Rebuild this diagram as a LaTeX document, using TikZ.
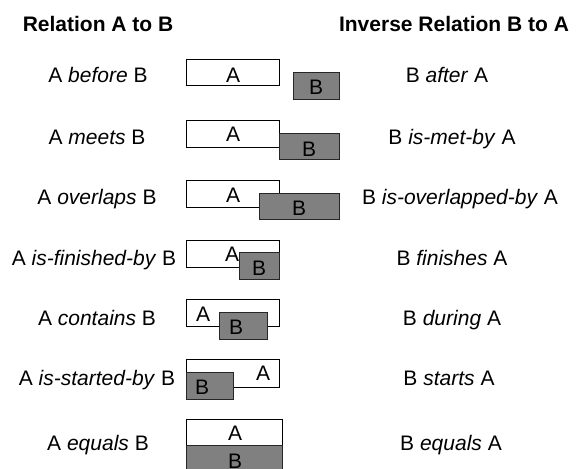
\documentclass[tikz,border=0pt]{standalone}
\usepackage{fontspec}
\setmainfont{Liberation Sans}
\definecolor{bgray}{RGB}{128,128,128}
\begin{document}
\begin{tikzpicture}[x=1pt,y=-1pt,
  txt/.style={font=\fontsize{21}{25}\selectfont, inner sep=0pt, anchor=base},
  head/.style={txt, font=\fontsize{21}{25}\selectfont\bfseries},
  abox/.style={draw=black, fill=white, line width=1pt},
  bbox/.style={draw=black!85, fill=bgray, line width=1pt}]
\useasboundingbox (0,0) rectangle (577,468);
\clip (0,0) rectangle (577,468);

% column headings
\node[head] (h1) at (98,31.7) {Relation A to B};
\node[head] (h2) at (454,31.7) {Inverse Relation B to A};

% relations A to B
\node[txt] (l1) at (98,82.5)  {A \emph{before} B};
\node[txt] (l2) at (97,144.5) {A \emph{meets} B};
\node[txt] (l3) at (97,204.5) {A \emph{overlaps} B};
\node[txt] (l4) at (94,265.5) {A \emph{is-finished-by} B};
\node[txt] (l5) at (97,325.5) {A \emph{contains} B};
\node[txt] (l6) at (97,385.5) {A \emph{is-started-by} B};
\node[txt] (l7) at (98,450.5) {A \emph{equals} B};

% inverse relations B to A
\node[txt] (r1) at (447,82.5)  {B \emph{after} A};
\node[txt] (r2) at (452,144.5) {B \emph{is-met-by} A};
\node[txt] (r3) at (460,204.5) {B \emph{is-overlapped-by} A};
\node[txt] (r4) at (452,265.5) {B \emph{finishes} A};
\node[txt] (r5) at (452,325.5) {B \emph{during} A};
\node[txt] (r6) at (449,385.5) {B \emph{starts} A};
\node[txt] (r7) at (451,450.5) {B \emph{equals} A};

% before
\draw[abox] (186,60) rectangle (279,86);
\node[txt] (a1) at (233,82.3) {A};
\draw[bbox] (293,73) rectangle (339,99);
\node[txt] (b1) at (316,95) {B};

% meets
\draw[abox] (186,120) rectangle (279,147);
\node[txt] (a2) at (233,141.7) {A};
\draw[bbox] (279,133) rectangle (339,159);
\node[txt] (b2) at (309,156) {B};

% overlaps
\draw[abox] (186,180) rectangle (279,207);
\node[txt] (a3) at (233,202.3) {A};
\draw[bbox] (259,193) rectangle (339,219);
\node[txt] (b3) at (299,215) {B};

% is-finished-by
\draw[abox] (186,240) rectangle (279,267);
\node[txt] (a4) at (232,261.7) {A};
\draw[bbox] (239,252) rectangle (279,279);
\node[txt] (b4) at (259,275) {B};

% contains
\draw[abox] (186,299) rectangle (279,326);
\node[txt] (a5) at (203,321) {A};
\draw[bbox] (219,312) rectangle (267,339);
\node[txt] (b5) at (236,334) {B};

% is-started-by
\draw[abox] (186,359) rectangle (279,387);
\node[txt] (a6) at (263,380.7) {A};
\draw[bbox] (186,372) rectangle (233,399);
\node[txt] (b6) at (202,394) {B};

% equals (B runs past the lower edge)
\draw[abox] (186,419) rectangle (282,445);
\node[txt] (a7) at (235,440.7) {A};
\draw[bbox] (186,445) rectangle (282,476);
\node[txt] (b7) at (235,468) {B};
\end{tikzpicture}
\end{document}
